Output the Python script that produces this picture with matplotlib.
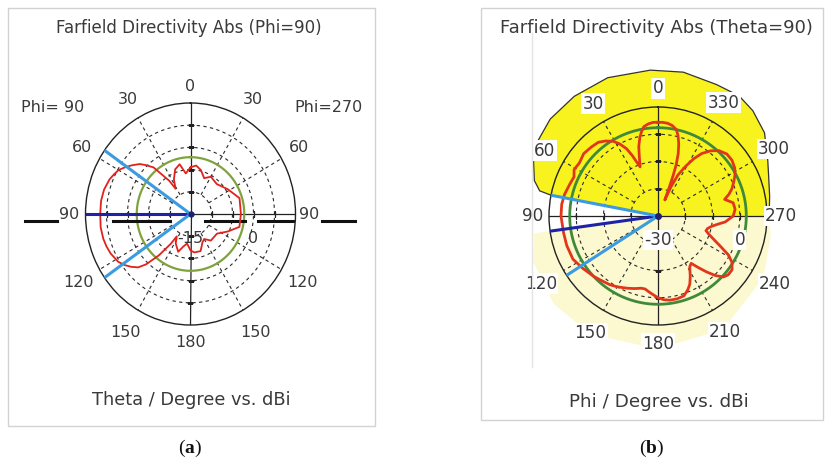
import numpy as np
import matplotlib.pyplot as plt
from matplotlib.patches import Rectangle
from matplotlib.lines import Line2D

plt.rcParams['font.family'] = ['DejaVu Sans']
plt.rcParams['mathtext.fontset'] = 'custom'
plt.rcParams['mathtext.rm'] = 'Liberation Serif'
plt.rcParams['mathtext.bf'] = 'Liberation Serif:bold'

W, H = 825, 473
TXT = '#3a3a3a'
GRID = '#2a2a2a'
FS = 11.5

# cut at Phi = 90: angle counter-clockwise from the top, directivity in dBi
a_angle = [0, 7, 13, 20, 27, 32, 34, 40, 44, 47,
           52, 56, 60, 64, 68, 75, 82, 90, 98, 105,
           110, 115, 122, 126, 130, 134, 137, 141, 145, 147,
           152, 161, 167, 173, 180, 186, 196, 204, 210, 219,
           235, 246, 256, 270, 287, 302, 317, 330, 338, 346,
           353, 360]
a_dbi = [-4.5, -5.8, -3.5, -4.3, -6.3, -8.3, -6.0, -1.3, 0.3, 1.5,
         2.8, 3.8, 4.8, 5.3, 5.8, 6.3, 6.5, 6.5, 6.6, 6.5,
         6.3, 6.0, 5.3, 4.5, 3.5, 2.3, 0.5, -3.0, -6.8, -9.0,
         -7.5, -6.0, -7.5, -8.3, -6.8, -6.3, -6.3, -8.0, -8.5, -7.3,
         -7.3, -5.3, -3.0, -3.0, -2.8, -4.5, -5.8, -5.3, -6.3, -4.8,
         -4.0, -4.5]
a_range = (-15, 10)
a_rings = [-10, -5, 0, 5]
a_main = 90
a_beam = [55, 125]
a_level = -2.2

# cut at Theta = 90: phi counter-clockwise from the top, directivity in dBi
b_angle = [0, 3, 6, 9, 11, 13, 15.5, 17.5, 20, 21.5,
           23, 25, 28, 31, 35, 39, 44, 50, 56, 61,
           65, 70, 77, 83, 90, 100, 108, 117, 125, 133,
           138, 145, 150, 157, 162, 167, 170, 173, 176, 180,
           184, 188, 193, 198, 202, 205, 208, 212, 215, 218,
           221, 224, 227, 230, 234, 238, 241, 244, 247, 250,
           253, 256, 259, 262, 265, 270, 275, 280, 284, 287,
           290, 294, 298, 302, 307, 312, 317, 321, 325, 328,
           331, 334, 336, 337, 338.5, 339.5, 340.5, 342, 344, 346,
           348, 351, 354, 357, 360]
b_dbi = [4.4, 4.4, 4.0, 3.2, 1.6, -0.4, -3.6, -7.2, -10.8, -8.8,
         -6.0, -2.8, 0.0, 2.0, 3.6, 4.8, 5.2, 5.6, 4.8, 5.2,
         4.0, 4.4, 5.2, 5.6, 5.6, 5.2, 5.2, 5.0, 3.6, 2.4,
         1.6, 0.8, 0.0, -1.2, -2.0, -2.8, -2.8, -2.0, -1.2, 0.0,
         0.8, 1.2, 1.2, 0.8, -0.8, -2.4, -4.8, -8.0, -8.8, -6.0,
         -2.8, 0.4, 2.8, 3.6, 3.6, 2.0, -0.4, -4.4, -7.6, -10.0,
         -11.6, -11.2, -10.0, -8.0, -5.2, -2.4, -1.6, -2.0, -4.8, -2.8,
         -1.2, 0.4, 2.0, 3.2, 4.0, 4.0, 2.8, 0.8, -2.0, -5.2,
         -9.2, -13.2, -18.0, -23.6, -18.8, -14.0, -10.0, -6.0, -2.4, 0.4,
         2.4, 3.6, 4.2, 4.4, 4.4]
b_range = (-30, 10)
b_rings = [-20, -10, 0]
b_main = 98
b_beam = [79, 123]
b_level = 2.4

# shaded regions behind the phi cut
b_hi_angle = [270, 280, 290, 297, 308, 318, 326, 336, 350, 363,
              380, 395, 408, 418, 426, 434, 438, 439]
b_hi_dbi = [10.8, 11.6, 13.2, 15.2, 19.6, 22.0, 23.2, 22.8, 23.6, 23.6,
            24.0, 23.6, 23.2, 22.0, 20.0, 17.2, 14.4, 10.0]
b_lo_angle = [98, 110, 130, 150, 180, 210, 240, 260, 270]
b_lo_dbi = [16.0, 18.8, 20.0, 20.0, 18.8, 18.0, 14.8, 12.0, 10.8]

fig = plt.figure(figsize=(W / 100, H / 100), dpi=100)


def fx(x):
    return x / W


def fy(y):
    return 1 - y / H


def polar_frame(rect, rng, rings):
    ax = fig.add_axes(rect, projection='polar')
    ax.set_aspect('auto')
    ax.set_theta_zero_location('N')
    ax.set_theta_direction(1)
    ax.set_ylim(*rng)
    ax.set_xticks([])
    ax.set_yticks([])
    ax.grid(False)
    ax.spines['polar'].set(linewidth=1.0, color='#222222', zorder=5)
    rmin, rmax = rng
    t = np.linspace(0, 2 * np.pi, 361)
    for r in rings:
        ax.plot(t, np.full_like(t, r), color=GRID, lw=0.8, ls=(0, (3, 3)), zorder=3)
    for d in [30, 60, 120, 150, 210, 240, 300, 330]:
        th = np.radians(d)
        ax.plot([th, th], [rings[0], rmax], color=GRID, lw=0.8, ls=(0, (3, 3)), zorder=3)
    for d in [0, 90, 180, 270]:
        th = np.radians(d)
        ax.plot([th, th], [rmin, rmax], color='#222222', lw=0.9, zorder=3)
        ax.plot([th] * len(rings), rings, ls='none', color='#222222', ms=5, mew=0.9,
                marker='_' if d in (0, 180) else '|', zorder=3)
    return ax


def angle_labels(ax, rng, items, fs, **kw):
    rmin, rmax = rng
    for d, s, k in items:
        ax.text(np.radians(d), rmin + k * (rmax - rmin), s, ha='center', va='center',
                fontsize=fs, color=TXT, clip_on=False, zorder=8, **kw)


# ---------- (a) theta cut ----------
axa = polar_frame([fx(85.5), fy(325), 210 / W, 222 / H], a_range, a_rings)
t = np.linspace(0, 2 * np.pi, 361)
axa.plot(t, np.full_like(t, a_level), color='#7fa33c', lw=1.6, zorder=4)
axa.plot(np.radians(a_angle), a_dbi, color='#e3211c', lw=1.3, zorder=6)
axa.plot([np.radians(a_main)] * 2, a_range, color='#1e22a6', lw=2.2, zorder=7)
for d in a_beam:
    axa.plot([np.radians(d)] * 2, a_range, color='#3b9be0', lw=2.2, zorder=7)
axa.plot(0, a_range[0], 'o', color='#1e2270', ms=3.5, zorder=7)

angle_labels(axa, a_range, [(0, '0', 1.15), (30, '30', 1.19), (60, '60', 1.19),
                            (120, '120', 1.23), (150, '150', 1.23), (180, '180', 1.16),
                            (330, '30', 1.19), (300, '60', 1.19), (240, '120', 1.23),
                            (210, '150', 1.23), (90, '90', 1.16), (270, '90', 1.13)], FS)
for r, s in [(-15, '-15'), (0, '0')]:
    axa.annotate(s, xy=(np.radians(270), r), xytext=(0, -24), textcoords='offset pixels',
                 ha='center', va='center', fontsize=FS, color=TXT, zorder=8)

# heavy baseline below the horizontal axis
for x0, x1 in [(25, 57), (113, 170), (205, 245), (258, 293), (322, 355)]:
    axa.plot([(x0 - 85.5) / 210, (x1 - 85.5) / 210], [(325 - 221) / 222] * 2,
             transform=axa.transAxes, color='#111111', lw=2.2, clip_on=False, zorder=4)

fig.text(fx(189), fy(28), 'Farfield Directivity Abs (Phi=90)', ha='center', va='center',
         fontsize=12, color=TXT)
fig.text(fx(53), fy(107), 'Phi= 90', ha='center', va='center', fontsize=FS, color=TXT)
fig.text(fx(328), fy(107), 'Phi=270', ha='center', va='center', fontsize=FS, color=TXT)
fig.text(fx(191), fy(400), 'Theta / Degree vs. dBi', ha='center', va='center',
         fontsize=12.8, color=TXT)

# ---------- (b) phi cut ----------
FSB = 12.2
axb = polar_frame([fx(549), fy(325), 218 / W, 218 / H], b_range, b_rings)
rmin = b_range[0]
axb.fill(np.radians([98] + b_lo_angle + [270]), [rmin] + b_lo_dbi + [rmin],
         color='#fcf8cf', lw=0, clip_on=False, zorder=1)
axb.fill(np.radians([270] + b_hi_angle + [439]), [rmin] + b_hi_dbi + [rmin],
         color='#f8f31e', lw=0, clip_on=False, zorder=1)
axb.plot(np.radians(b_hi_angle), b_hi_dbi, color='#333333', lw=0.9, clip_on=False, zorder=2)
axb.plot(t, np.full_like(t, b_level), color='#3f8a3a', lw=2.0, zorder=4)
axb.plot(np.radians(b_angle), b_dbi, color='#e2361b', lw=2.0, zorder=6)
axb.plot([np.radians(b_main)] * 2, b_range, color='#1e22a6', lw=2.2, zorder=7)
for d in b_beam:
    axb.plot([np.radians(d)] * 2, b_range, color='#3b9be0', lw=2.2, zorder=7)
axb.plot(0, rmin, 'o', color='#1e2270', ms=4, zorder=7)

box = dict(facecolor='white', edgecolor='none', pad=1.0)
angle_labels(axb, b_range, [(0, '0', 1.17), (30, '30', 1.19), (330, '330', 1.2),
                            (60, '60', 1.2), (300, '300', 1.23), (90, '90', 1.15),
                            (270, '270', 1.13), (120, '120', 1.24), (240, '240', 1.24),
                            (150, '150', 1.24), (210, '210', 1.23), (180, '180', 1.17)],
             FSB, bbox=box)
for r, s in [(-30, '-30'), (0, '0')]:
    axb.annotate(s, xy=(np.radians(270), r), xytext=(0, -24), textcoords='offset pixels',
                 ha='center', va='center', fontsize=FSB, color=TXT, zorder=8, bbox=box)

fig.text(fx(656), fy(28), 'Farfield Directivity Abs (Theta=90)', ha='center', va='center',
         fontsize=13, color=TXT)
fig.text(fx(659), fy(402), 'Phi / Degree vs. dBi', ha='center', va='center',
         fontsize=13.2, color=TXT)

# panel frames and captions
fig.add_artist(Rectangle((fx(7.5), fy(426)), 367 / W, 418 / H, transform=fig.transFigure,
                         fill=False, ec='#d2d2d2', lw=1.0))
fig.add_artist(Rectangle((fx(481), fy(420)), 342 / W, 412 / H, transform=fig.transFigure,
                         fill=False, ec='#d2d2d2', lw=1.0))
fig.add_artist(Line2D([fx(532)] * 2, [fy(33), fy(367)], transform=fig.transFigure,
                      color='#e4e4e4', lw=1.0))
fig.text(fx(190), fy(448), r'($\mathbf{a}$)', ha='center', va='center', fontsize=14,
         family='Liberation Serif', color='#111111')
fig.text(fx(652), fy(448), r'($\mathbf{b}$)', ha='center', va='center', fontsize=14,
         family='Liberation Serif', color='#111111')

fig.savefig('out.png', dpi=100, facecolor='white')
